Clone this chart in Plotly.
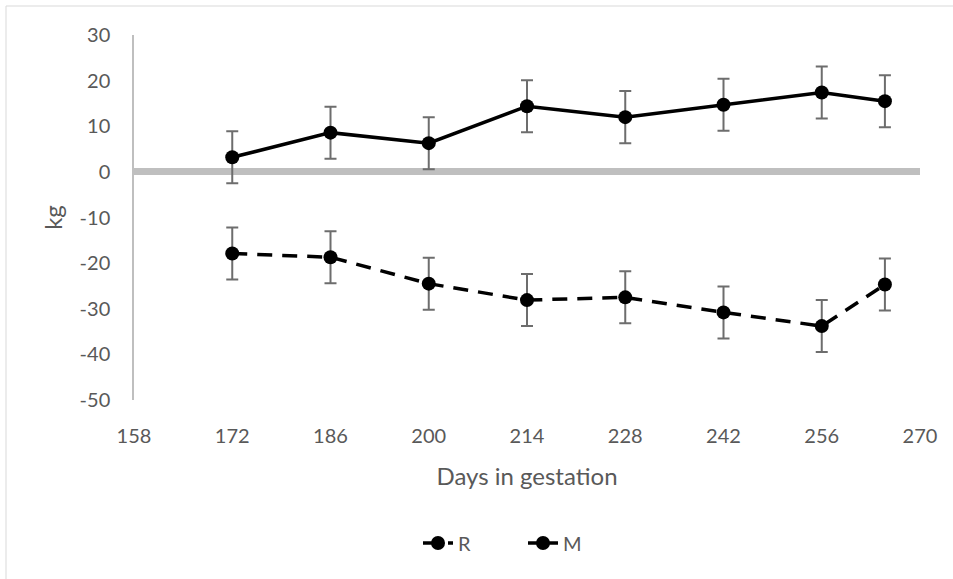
import plotly.graph_objects as go

days = [172, 186, 200, 214, 228, 242, 256, 265]
r_values = [-17.9, -18.7, -24.5, -28.1, -27.5, -30.8, -33.8, -24.7]
m_values = [3.2, 8.6, 6.3, 14.4, 12.0, 14.7, 17.4, 15.5]
r_err = [5.7, 5.7, 5.7, 5.7, 5.7, 5.7, 5.7, 5.7]
m_err = [5.7, 5.7, 5.7, 5.7, 5.7, 5.7, 5.7, 5.7]
x_ticks = [158, 172, 186, 200, 214, 228, 242, 256, 270]
y_ticks = [-50, -40, -30, -20, -10, 0, 10, 20, 30]

FONT = "Lato, 'Open Sans', sans-serif"
GREY_TXT = "#595959"

err_style = dict(type="data", thickness=2, width=6, color="#6d6d6d")

fig = go.Figure()
fig.add_trace(go.Scatter(
    x=days, y=r_values, name="R", mode="lines+markers",
    line=dict(color="black", width=3.5, dash="15px,10px"),
    marker=dict(color="black", size=14, symbol="circle"),
    error_y=dict(array=r_err, **err_style),
))
fig.add_trace(go.Scatter(
    x=days, y=m_values, name="M", mode="lines+markers",
    line=dict(color="black", width=3.5),
    marker=dict(color="black", size=14, symbol="circle"),
    error_y=dict(array=m_err, **err_style),
))

W, H = 953, 579
L, R, T, B = 134, 33, 35, 179
pw = W - L - R
ph = H - T - B

def px_x(p):
    return (p - L) / pw

def px_y(p):
    return (H - B - p) / ph

fig.update_layout(
    width=W, height=H,
    margin=dict(l=L, r=R, t=T, b=B, autoexpand=False),
    paper_bgcolor="white", plot_bgcolor="white",
    font=dict(family=FONT, size=20, color=GREY_TXT),
    showlegend=True,
    legend=dict(orientation="h", x=px_x(418), xanchor="left", y=px_y(543), yanchor="middle",
                entrywidth=60, entrywidthmode="pixels",
                font=dict(size=20, color=GREY_TXT), traceorder="normal"),
    xaxis=dict(range=[158, 270], tickvals=x_ticks, ticktext=[str(v) for v in x_ticks],
               showgrid=False, zeroline=False, showline=False, ticks="",
               ticklabelstandoff=22, tickfont=dict(size=20),
               title=dict(text="Days in gestation", font=dict(size=24, color=GREY_TXT), standoff=22)),
    yaxis=dict(range=[-50, 30], tickvals=y_ticks, ticktext=[str(v) for v in y_ticks],
               showgrid=False, zeroline=True, zerolinecolor="#BFBFBF", zerolinewidth=7,
               showline=True, linecolor="#BFBFBF", linewidth=1.5, ticks="",
               ticklabelstandoff=18, tickfont=dict(size=20),
               title=dict(text="kg", font=dict(size=24, color=GREY_TXT), standoff=10)),
    shapes=[dict(type="rect", xref="paper", yref="paper",
                 x0=px_x(6), x1=px_x(1000), y0=px_y(620), y1=px_y(6),
                 line=dict(color="#D9D9D9", width=1), fillcolor="rgba(0,0,0,0)", layer="below")],
)

fig.write_html("out.html", config={"displayModeBar": False},
               post_script="document.body.style.margin='0';")
